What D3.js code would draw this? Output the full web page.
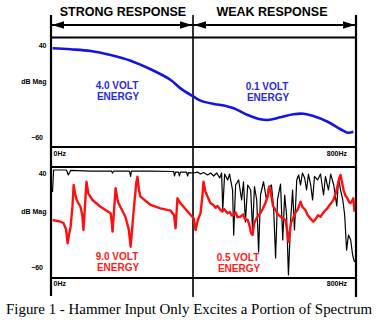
<!DOCTYPE html>
<html><head><meta charset="utf-8">
<script src="https://cdn.jsdelivr.net/npm/d3@7/dist/d3.min.js"></script>
<style>body{margin:0;background:#fff}svg{display:block}</style>
</head><body>
<svg id="c" width="378" height="323"></svg>
<script>
// ---- data ----
const regions = ["STRONG RESPONSE", "WEAK RESPONSE"];
const xTicks = [0, 800];
const yTicks = [40, -60];
const labels = {top: ["4.0 VOLT", "0.1 VOLT"], bottom: ["9.0 VOLT", "0.5 VOLT"]};

const blueHz = [0,48,101,154,207,260,313,339,374,392,427,445,480,517,551,570,604,638,665,691,729,763,782,797];
const blueDb = [36.4,35.3,33.5,29.1,22.9,13.6,2.0,-7.1,-16.2,-20.5,-24.1,-25.2,-28.8,-36.1,-40.8,-41.5,-38.6,-35.3,-34.7,-37.2,-43.4,-51.6,-55.3,-54.2];

const redHz = [0,21,29,36,40,44,48,53,56,60,64,74,79,82,86,90,95,106,127,154,157,159,163,167,172,175,193,202,207,215,222,225,229,233,260,286,313,322,326,331,339,366,374,379,385,392,397,400,405,411,418,426,432,437,445,450,455,464,470,474,479,485,490,498,505,510,517,522,526,530,534,538,544,551,557,564,570,574,578,584,591,597,604,610,617,621,625,629,632,636,642,649,653,657,662,670,676,682,691,697,703,710,716,722,728,734,740,744,750,756,760,763,767,771,776,781,786,789,793,797,800];
const redDb = [-10,-11.8,-13.2,-20,-34.8,-25,-17.1,5,27.2,18,11.3,4.1,-5,-20.6,5,30.7,18,11.3,4.1,-2.9,-12,-22.4,0,23.7,12,7.8,-6.5,-20,-38.4,0,30,36.1,22,14.8,6,2.4,-0.1,-5,-18.8,13.1,7.8,-4.7,-8.2,-20.6,-10,-2.9,15,30.7,20,14.8,8,6,3,5,0.6,-1,1.5,-2.9,-1.5,-5,-4.7,-2,-7,-6.5,-4,-9,-10,-16,-24,-26,-14,-10,-6,-2.6,2,8.1,15,25.4,20,5,0.6,-4,-6.5,-8,-10,-20,-33.1,-22,-12,-10,-3,0.6,5,9.5,4,0.6,-5,-8,-11.8,-9,-5,-6.5,-3,0,2.4,6,9,11.3,18,28,35,37.9,30,21.9,16,13.1,9,7.8,10,13.1,-1.2];

const blackHz = [0,3,21,37,42,48,101,156,159,162,204,207,209,260,321,323,326,334,336,339,355,358,360,374,384,392,400,411,419,427,435,443,448,451,456,464,469,477,480,485,493,501,506,511,517,525,530,535,541,546,551,559,567,572,580,586,591,596,604,610,615,620,625,631,636,641,647,652,657,662,668,673,678,684,689,694,702,710,718,723,731,737,745,753,758,763,769,774,779,784,790,795,800];
const blackDb = [19.8,43.2,43.2,43.2,37.9,42.7,42.1,42.1,40,42.1,42.1,36.3,42.1,42.1,41.6,36.8,41,41,36.8,41,41,36.8,40.5,40,41,38.9,40.5,37.9,40,36.8,40,34.7,40,0.6,38.9,32.6,38.9,21.9,-26,27.2,32.6,11.3,30.7,-12.1,27.2,21.9,-20.6,25.5,11.3,-44,16.6,30.7,11.3,24,27.2,0.6,-50.4,11.3,28.3,-31.3,16.6,-4.7,-68.5,-10,21.9,-20.6,32.6,37.9,27.2,40,34.7,21.9,38.9,27.2,11.3,36.3,32.6,38.9,16.6,36.3,21.9,38.9,27.2,5,34.7,21.9,11.3,-4.7,-42,-26,-31.3,-47.2,-54.7];

// ---- layout ----
const svg = d3.select("#c");
const L = 51, M = 193, R = 356;
const x = d3.scaleLinear().domain([0, 800]).range([52.5, 354.5]);
const yTop = d3.scaleLinear().domain([-60, 40]).range([137, 45]);
const yBot = d3.scaleLinear().domain([-60, 40]).range([267, 173]);
const boldSans = "'Liberation Sans', Arial, sans-serif";

// clip paths
const defs = svg.append("defs");
defs.append("clipPath").attr("id","clipT").append("rect").attr("x",52).attr("y",38).attr("width",303).attr("height",108.5);
defs.append("clipPath").attr("id","clipB").append("rect").attr("x",52).attr("y",167.5).attr("width",303).attr("height",110);

// headings
svg.selectAll("text.head").data(regions).join("text")
  .attr("class","head")
  .attr("x",(d,i)=> i===0 ? 123 : 272).attr("y",16)
  .attr("text-anchor","middle")
  .attr("font-family",boldSans).attr("font-weight","bold").attr("font-size",12.5)
  .text(d=>d);

// arrow line
svg.append("line").attr("x1",L).attr("x2",R).attr("y1",25).attr("y2",25).attr("stroke","#000").attr("stroke-width",2);
function arrow(tip, dir){
  svg.append("path").attr("d",`M${tip},25 L${tip+dir*12},21.3 L${tip+dir*12},28.7 Z`).attr("fill","#000");
}
arrow(L+1,1); arrow(M-1,-1); arrow(M+1,1); arrow(R-1,-1);

// frames
const frame = svg.append("g").attr("stroke","#000").attr("fill","none");
frame.append("line").attr("x1",L).attr("x2",R).attr("y1",37.5).attr("y2",37.5).attr("stroke-width",2);
frame.append("line").attr("x1",L).attr("x2",R).attr("y1",147).attr("y2",147).attr("stroke-width",2);
frame.append("line").attr("x1",L).attr("x2",R).attr("y1",167).attr("y2",167).attr("stroke-width",2);
frame.append("line").attr("x1",L).attr("x2",R).attr("y1",278).attr("y2",278).attr("stroke-width",2);
frame.append("line").attr("x1",L).attr("x2",L).attr("y1",15).attr("y2",296).attr("stroke-width",2.2);
frame.append("line").attr("x1",M).attr("x2",M).attr("y1",15).attr("y2",297).attr("stroke-width",1.6);
frame.append("line").attr("x1",R).attr("x2",R).attr("y1",15).attr("y2",297).attr("stroke-width",2.2);

// y axes
function yAxis(scale, midY){
  const g = svg.append("g").attr("transform",`translate(46.5,0)`)
    .call(d3.axisLeft(scale).tickValues(yTicks).tickSize(0).tickPadding(0).tickFormat(d3.format("d")));
  g.select(".domain").remove();
  g.selectAll("text").attr("font-family",boldSans).attr("font-weight","bold").attr("font-size",7).attr("fill","#000")
    .attr("dx",d=> d<0 ? -3.5 : 0);
  svg.append("text").attr("x",46.5).attr("y",midY).attr("text-anchor","end")
    .attr("font-family",boldSans).attr("font-weight","bold").attr("font-size",7).text("dB Mag");
}
yAxis(yTop, 83.5);
yAxis(yBot, 214);

// x axes
function xAxis(yPos){
  const g = svg.append("g").attr("transform",`translate(0,${yPos})`)
    .call(d3.axisBottom(x).tickValues(xTicks).tickSize(0).tickPadding(0).tickFormat(d=>d+"Hz"));
  g.select(".domain").remove();
  g.selectAll("text").attr("font-family",boldSans).attr("font-weight","bold").attr("font-size",7).attr("fill","#000")
    .attr("text-anchor",d=> d===0 ? "start" : "end")
    .attr("dx",d=> d===0 ? 0.5 : -8);
}
xAxis(151.5);
xAxis(281);

// curves
const lineT = d3.line().x(d=>x(d[0])).y(d=>yTop(d[1])).curve(d3.curveCatmullRom);
const lineB = d3.line().x(d=>x(d[0])).y(d=>yBot(d[1]));
svg.append("path").datum(d3.zip(blueHz, blueDb)).attr("clip-path","url(#clipT)")
  .attr("d",lineT).attr("fill","none").attr("stroke","#1414e6").attr("stroke-width",2.6).attr("stroke-linejoin","round");
svg.append("path").datum(d3.zip(blackHz, blackDb)).attr("clip-path","url(#clipB)")
  .attr("d",lineB).attr("fill","none").attr("stroke","#000").attr("stroke-width",1.2).attr("stroke-linejoin","round");
svg.append("path").datum(d3.zip(redHz, redDb)).attr("clip-path","url(#clipB)")
  .attr("d",lineB).attr("fill","none").attr("stroke","#ff1010").attr("stroke-width",2.4).attr("stroke-linejoin","round");

// energy labels
function energy(cx, y1, txt, color){
  const t = svg.append("text").attr("text-anchor","middle").attr("font-family",boldSans)
    .attr("font-weight","bold").attr("font-size",10).attr("fill",color);
  t.append("tspan").attr("x",cx).attr("y",y1).text(txt);
  t.append("tspan").attr("x",cx+1).attr("y",y1+11).text("ENERGY");
}
energy(117, 89, labels.top[0], "#2a2ae0");
energy(267, 90, labels.top[1], "#2a2ae0");
energy(117, 260, labels.bottom[0], "#ff1a1a");
energy(238, 261, labels.bottom[1], "#ff1a1a");

// caption
svg.append("text").attr("x",189).attr("y",313.5).attr("text-anchor","middle")
  .attr("font-family","'Liberation Serif', 'Times New Roman', serif").attr("font-size",15)
  .attr("textLength",366).attr("lengthAdjust","spacingAndGlyphs")
  .text("Figure 1 - Hammer Input Only Excites a Portion of Spectrum");
</script>
</body></html>
